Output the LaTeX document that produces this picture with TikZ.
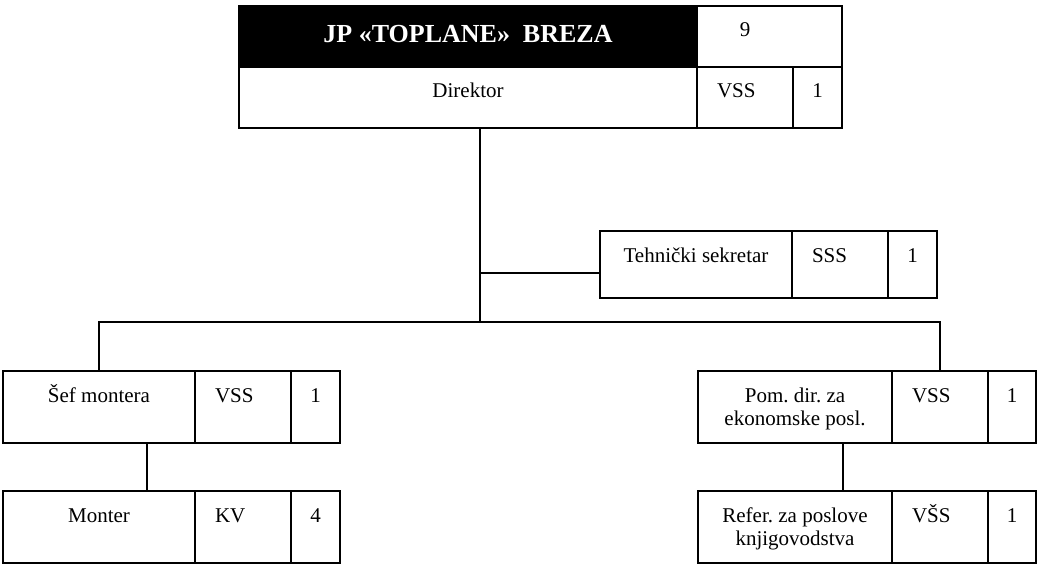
\documentclass[tikz,border=0pt]{standalone}
\usepackage{fontspec}
\setmainfont{Liberation Serif}
\frenchspacing

\begin{document}
\begin{tikzpicture}[x=1pt,y=-1pt,
  font=\fontsize{21}{23}\selectfont,
  cell/.style={draw, line width=1.8pt, anchor=north west, inner sep=0pt,
    outer sep=0pt, align=center, text height=31pt},
  qual/.style={cell, align=left, text width=56pt, inner xsep=20pt},
  rowhead/.style={text depth=30pt},
  rowtech/.style={text depth=36pt},
  rowbig/.style={text depth=41pt},
  rowtwo/.style={text height=54pt, text depth=18pt},
  link/.style={line width=1.8pt}]

\useasboundingbox (0,0) rectangle (1038,569);

% Head of the firm
\node[cell, minimum width=458pt, fill=black, text=white,
  font=\bfseries\fontsize{26}{28}\selectfont,
  text height=37pt, text depth=24pt] (firm) at (239,6) {JP «TOPLANE»\ \ BREZA};
\node[cell, rowhead, minimum width=145pt] (total) at (firm.north east) {9\hspace*{49pt}};
\node[cell, rowhead, minimum width=458pt] (dir) at (239,67) {Direktor};
\node[qual, rowhead] (dirQ) at (dir.north east) {VSS};
\node[cell, rowhead, minimum width=49pt] (dirN) at (dirQ.north east) {1};

% Technical secretary
\node[cell, rowtech, minimum width=192pt] (tech) at (600,231) {Tehnički sekretar};
\node[qual, rowtech] (techQ) at (tech.north east) {SSS};
\node[cell, rowtech, minimum width=49pt] (techN) at (techQ.north east) {1};

% Left branch
\node[cell, rowbig, minimum width=192pt] (sef) at (3,371) {Šef montera};
\node[qual, rowbig] (sefQ) at (sef.north east) {VSS};
\node[cell, rowbig, minimum width=49pt] (sefN) at (sefQ.north east) {1};

\node[cell, rowbig, minimum width=192pt] (mont) at (3,491) {Monter};
\node[qual, rowbig] (montQ) at (mont.north east) {KV};
\node[cell, rowbig, minimum width=49pt] (montN) at (montQ.north east) {4};

% Right branch
\node[cell, rowtwo, minimum width=194pt] (pom) at (698,371) {Pom. dir. za\\ekonomske posl.};
\node[qual, rowbig] (pomQ) at (pom.north east) {VSS};
\node[cell, rowbig, minimum width=48pt] (pomN) at (pomQ.north east) {1};

\node[cell, rowtwo, minimum width=194pt] (ref) at (698,491) {Refer. za poslove\\knjigovodstva};
\node[qual, rowbig] (refQ) at (ref.north east) {VŠS};
\node[cell, rowbig, minimum width=48pt] (refN) at (refQ.north east) {1};

% Connectors
\coordinate (hub) at (480,322);
\coordinate (branch) at (480,273);
\draw[link] (dir.south -| hub) -- (hub);
\draw[link] (branch) -- (branch -| tech.west);
\draw[link] (sef.north) |- (hub) -| (pomQ.north);
\draw[link] ([xshift=48pt]sef.south) -- ([xshift=48pt]mont.north);
\draw[link] ([xshift=48pt]pom.south) -- ([xshift=48pt]ref.north);

\end{tikzpicture}
\end{document}
